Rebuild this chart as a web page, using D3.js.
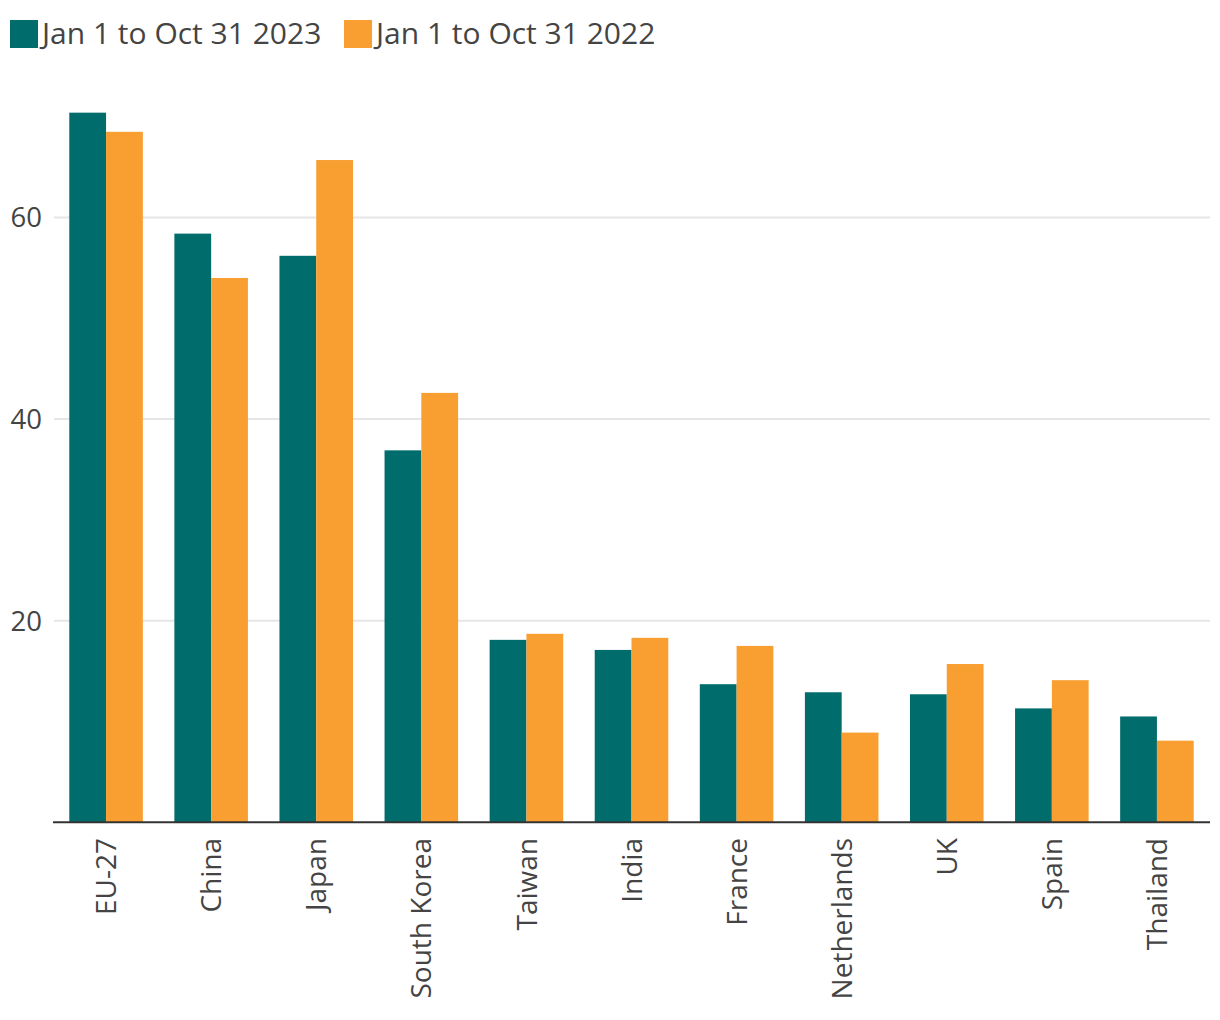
<!DOCTYPE html>
<html>
<head>
<meta charset="utf-8">
<script src="https://cdn.jsdelivr.net/npm/d3@7"></script>
<style>
  html, body { margin: 0; padding: 0; background: #ffffff; }
  svg { display: block; font-family: "Open Sans", "Noto Sans", sans-serif; }
</style>
</head>
<body>
<svg id="chart" width="1220" height="1020"></svg>
<script>
const categories = ["EU-27", "China", "Japan", "South Korea", "Taiwan", "India", "France", "Netherlands", "UK", "Spain", "Thailand"];
const seriesNames = ["Jan 1 to Oct 31 2023", "Jan 1 to Oct 31 2022"];
const values2023 = [70.4, 58.4, 56.2, 36.9, 18.1, 17.1, 13.7, 12.9, 12.7, 11.3, 10.5];
const values2022 = [68.5, 54.0, 65.7, 42.6, 18.7, 18.3, 17.5, 8.9, 15.7, 14.1, 8.1];
const yTicks = [20, 40, 60];
const colors = ["#006c6c", "#f99e31"];

const svg = d3.select("#chart");
const textColor = "#444444";

const x0 = d3.scaleBand().domain(categories).range([53, 1210]).paddingInner(0.3).paddingOuter(0.155);
const x1 = d3.scaleBand().domain(seriesNames).range([0, x0.bandwidth()]);
const y = d3.scaleLinear().domain([0, 80]).range([822.3, 822.3 - 80 * 10.08]);

// gridlines
svg.append("g").selectAll("line").data(yTicks).join("line")
  .attr("x1", 54).attr("x2", 1210)
  .attr("y1", d => y(d)).attr("y2", d => y(d))
  .attr("stroke", "#e6e6e6").attr("stroke-width", 2);

// y tick labels
svg.append("g").selectAll("text").data(yTicks).join("text")
  .attr("x", 42).attr("y", d => y(d)).attr("dy", "0.36em")
  .attr("text-anchor", "end").attr("fill", textColor)
  .attr("font-size", 27.5).text(d => d);

// bars
const rows = categories.map((c, i) => ({ cat: c, vals: [values2023[i], values2022[i]] }));
const groups = svg.append("g").selectAll("g").data(rows).join("g")
  .attr("transform", d => `translate(${x0(d.cat)},0)`);
groups.selectAll("rect").data(d => d.vals.map((v, k) => ({ v, k }))).join("rect")
  .attr("x", d => x1(seriesNames[d.k]))
  .attr("width", x1.bandwidth())
  .attr("y", d => y(d.v))
  .attr("height", d => y(0) - y(d.v))
  .attr("fill", d => colors[d.k]);

// x axis line
svg.append("line").attr("x1", 53).attr("x2", 1210)
  .attr("y1", y(0)).attr("y2", y(0))
  .attr("stroke", "#333333").attr("stroke-width", 2);

// x labels
svg.append("g").selectAll("text").data(categories).join("text")
  .attr("transform", d => `translate(${x0(d) + x0.bandwidth() / 2},838) rotate(-90)`)
  .attr("dy", "0.36em")
  .attr("text-anchor", "end").attr("fill", textColor)
  .attr("font-size", 28).text(d => d);

// legend
const legendX = [10, 344];
const lg = svg.append("g").selectAll("g").data(seriesNames).join("g")
  .attr("transform", (d, i) => `translate(${legendX[i]},20)`);
lg.append("rect").attr("width", 28).attr("height", 28).attr("fill", (d, i) => colors[i]);
lg.append("text").attr("x", 32).attr("y", 24)
  .attr("fill", textColor).attr("font-size", 30).text(d => d);
</script>
</body>
</html>
